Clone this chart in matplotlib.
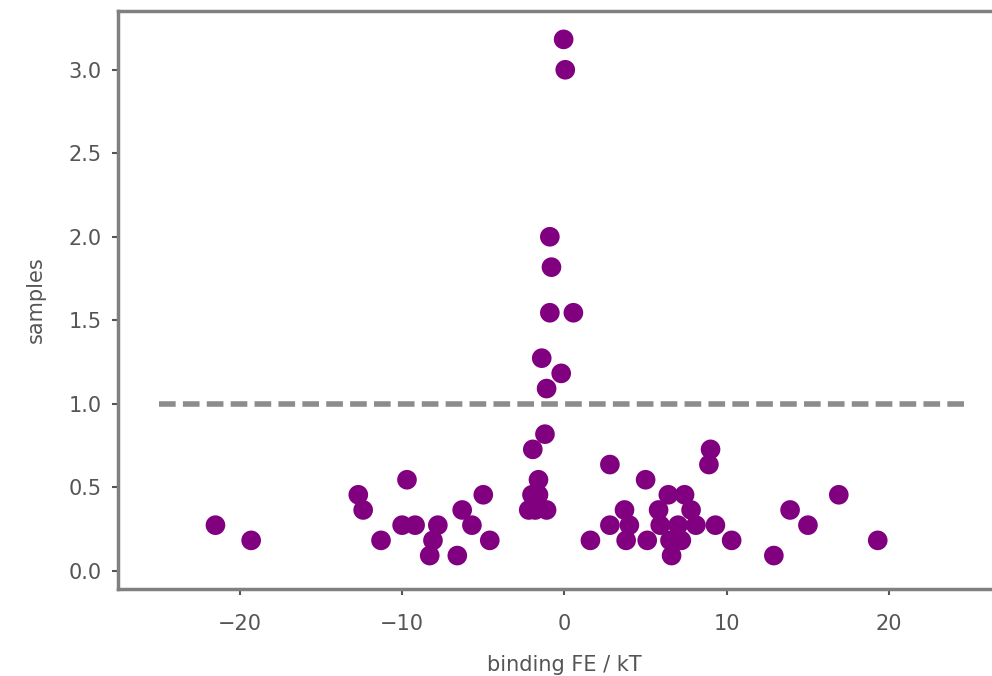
import matplotlib
matplotlib.use('Agg')
import numpy as np
from matplotlib import pyplot as plt

# binding free energy (kT) and sample counts
fe_left = [-21.5, -19.3, -12.7, -12.4, -9.7, -11.3, -10.0, -9.2, -7.8, -8.1, -8.3, -6.6, -6.3, -5.7, -5.0, -4.6]
samples_left = [0.273, 0.182, 0.455, 0.364, 0.545, 0.182, 0.273, 0.273, 0.273, 0.182, 0.091, 0.091, 0.364, 0.273, 0.455, 0.182]

fe_mid = [-0.05, 0.05, -0.9, -0.8, -0.9, 0.55, -1.4, -0.2, -1.1, -1.2, -1.95, -1.6, -2.0, -1.6, -2.2, -1.8, -1.1]
samples_mid = [3.182, 3.0, 2.0, 1.818, 1.545, 1.545, 1.273, 1.182, 1.091, 0.818, 0.727, 0.545, 0.455, 0.455, 0.364, 0.364, 0.364]

fe_right = [2.8, 5.0, 1.6, 2.8, 3.7, 4.0, 3.8, 5.1, 5.8, 6.4, 7.4, 7.8, 5.9, 7.0, 8.1, 6.5, 7.2, 6.6,
            9.3, 10.3, 9.0, 8.9, 13.9, 15.0, 12.9, 16.9, 19.3]
samples_right = [0.636, 0.545, 0.182, 0.273, 0.364, 0.273, 0.182, 0.182, 0.364, 0.455, 0.455, 0.364, 0.273, 0.273, 0.273, 0.182, 0.182, 0.091,
                 0.273, 0.182, 0.727, 0.636, 0.364, 0.273, 0.091, 0.455, 0.182]

threshold = 1.0
fe_range = [-25, 25]

fe = np.array(fe_left + fe_mid + fe_right)
samples = np.array(samples_left + samples_mid + samples_right)

fig = plt.figure(figsize=(9.92, 6.76), dpi=100)
# right edge of the axes falls outside the picture, as in the cropped original
ax = fig.add_axes([0.119, 0.129, 0.9, 0.855])
ax.scatter(fe, samples, s=200, c='purple', edgecolors='none', zorder=3)
ax.hlines(threshold, fe_range[0], fe_range[1], colors='#8c8c8c', linestyles=(0, (3.0, 1.3)), lw=4, zorder=2)

ax.set_xlim(-27.5, 27.5)
ax.set_ylim(-0.108, 3.353)
ax.set_xticks([-20, -10, 0, 10, 20])
ax.set_yticks([0.0, 0.5, 1.0, 1.5, 2.0, 2.5, 3.0])
ax.set_xlabel('binding FE / kT', fontsize=15, color='#555555', labelpad=15)
ax.set_ylabel('samples', fontsize=15, color='#555555', labelpad=16)
for sp in ax.spines.values():
    sp.set_color('#808080')
    sp.set_linewidth(2.5)
ax.tick_params(axis='x', labelsize=15, colors='#555555', length=4, width=1.5, pad=14)
ax.tick_params(axis='y', labelsize=15, colors='#555555', length=4, width=1.5, pad=8)

plt.savefig('out.png', dpi=100)
